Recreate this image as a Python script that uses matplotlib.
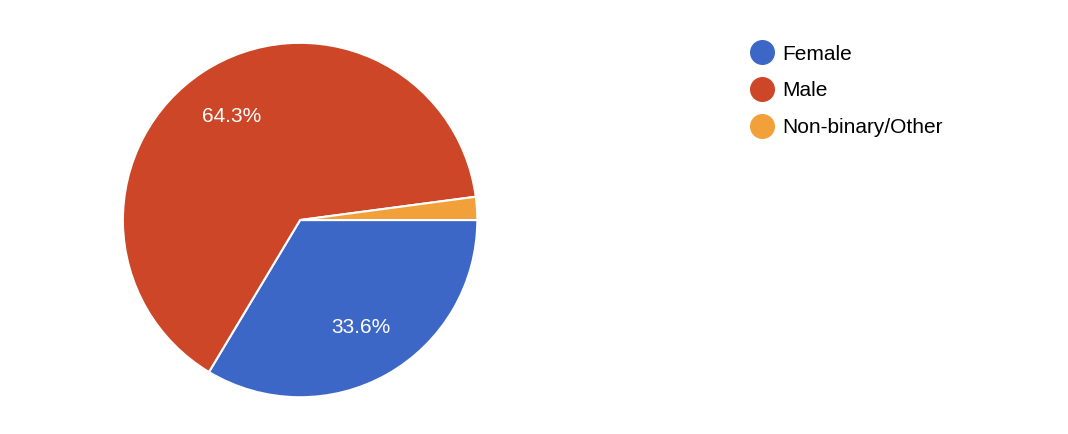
import matplotlib.pyplot as plt
from matplotlib.lines import Line2D

labels = ["Female", "Male", "Non-binary/Other"]
shares = [33.6, 64.3, 2.1]
colors = ["#3d67c6", "#cc4627", "#f2a13a"]

fig = plt.figure(figsize=(10.68, 4.34), dpi=100)
ax = fig.add_axes([0.281 - 0.1676, 0.493 - 0.4124, 0.3352, 0.8248])

ax.pie(shares, colors=colors, startangle=0, counterclock=False,
       autopct=lambda p: f"{p:.1f}%" if p > 5 else "", pctdistance=0.7,
       wedgeprops=dict(edgecolor="white", linewidth=1.5),
       textprops=dict(color="white", fontsize=15, family="Liberation Sans"))
ax.set_aspect("equal")
ax.set_xlim(-1.01, 1.01)
ax.set_ylim(-1.01, 1.01)

handles = [Line2D([], [], marker="o", linestyle="", markersize=17,
                  markerfacecolor=c, markeredgecolor=c) for c in colors]
fig.legend(handles, labels, loc="upper left", bbox_to_anchor=(0.676, 0.94),
           frameon=False, handletextpad=0.0, labelspacing=0.85,
           prop=dict(family="Liberation Sans", size=15))

fig.savefig("out.png", dpi=100)
